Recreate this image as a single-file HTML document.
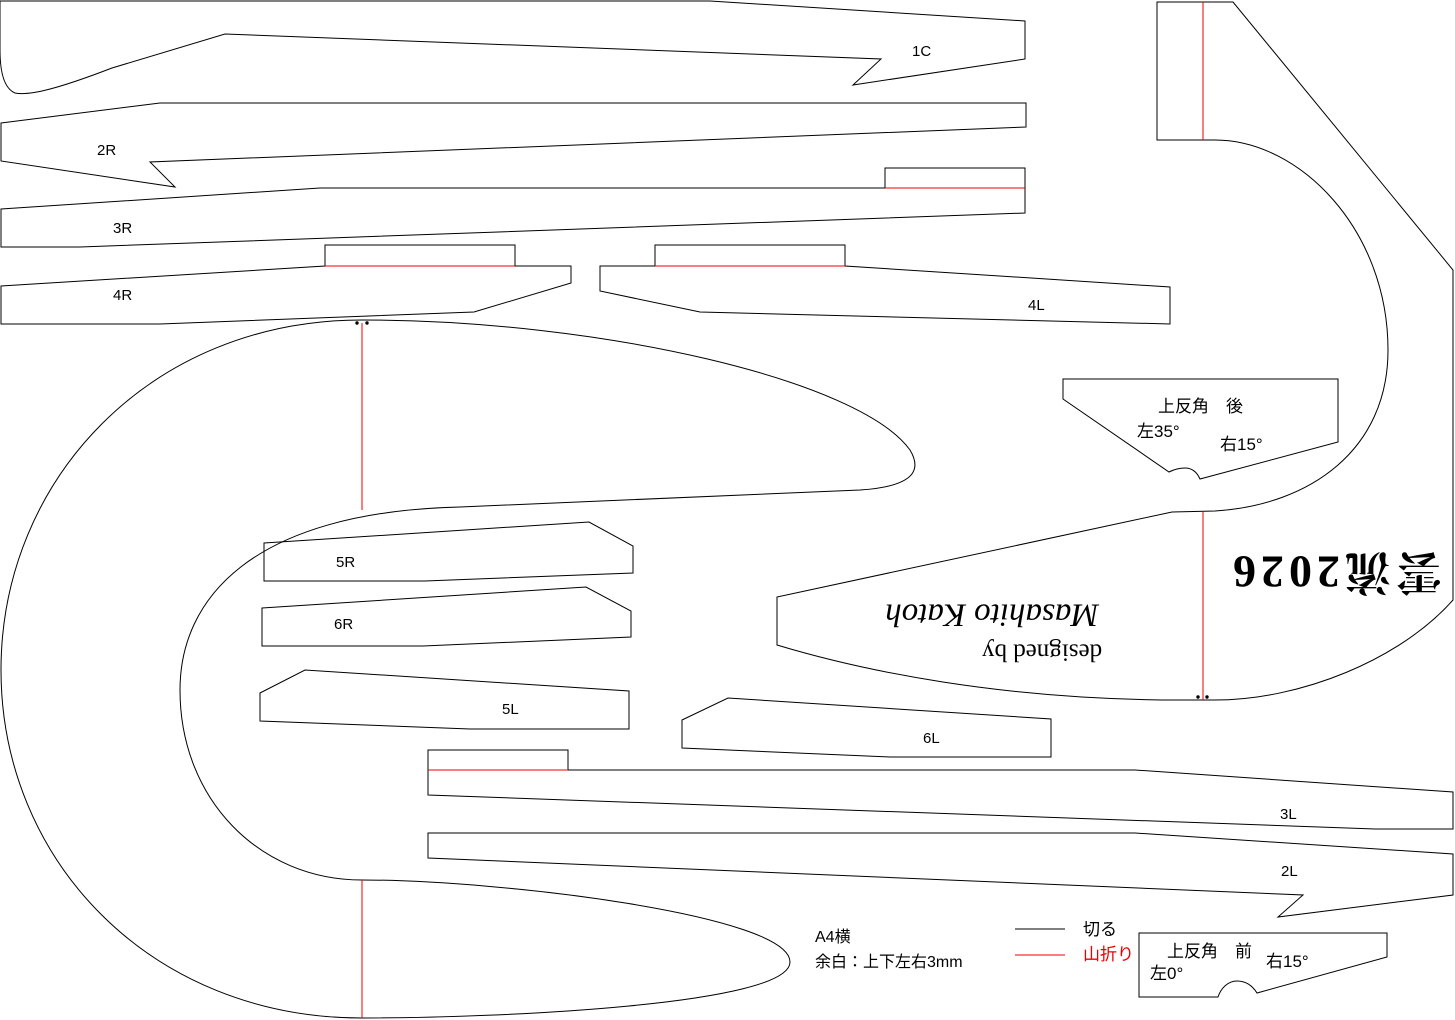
<!DOCTYPE html>
<html><head><meta charset="utf-8"><style>
html,body{margin:0;padding:0;background:#fff;}
svg{display:block}
text{font-family:"Liberation Sans","Noto Sans CJK JP",sans-serif;}
</style></head><body>
<svg width="1455" height="1020" viewBox="0 0 1455 1020" xmlns="http://www.w3.org/2000/svg">
<g fill="none" stroke="#000" stroke-width="1">
<path d="M0,1 L710,1 L1025,21 L1025,59 L853,85 L881,59 L225,34 L112,68 C60,88 30,96 15,93 C3,88 0,70 0,50 L0,1 Z"/>
<path d="M1,123 L160,103 L1026,103 L1026,127 L150,162 L175,187 L1,161 Z"/>
<path d="M1,209 L320,188 L885,188 L885,168 L1025,168 L1025,213 L80,247 L1,247 Z"/>
<path d="M885,188 L1025,188" stroke="#e00"/>
<path d="M1,286 L325,266 L325,245 L515,245 L515,266 L571,266 L571,283 L474,312 L160,324 L1,324 Z"/>
<path d="M325,266 L515,266" stroke="#e00"/>
<path d="M600,266 L655,266 L655,245 L845,245 L845,266 L1170,287 L1170,324 L700,312 L600,291 Z"/>
<path d="M655,266 L845,266" stroke="#e00"/>
<path d="M362,320 C600,320 860,380 910,450 C925,475 905,487 860,490 L460,507 C250,512 180,600 180,690 C180,800 260,880 362,880 C500,880 790,915 790,962 C790,1005 500,1018 362,1018 C150,1018 1,860 1,670 C1,480 150,320 362,320 Z"/>
<path d="M362,323 L362,510 M362,880 L362,1018" stroke="#e00"/>
<path d="M1157,2 L1233,2 L1453,270 L1453,600 C1400,660 1300,700 1215,700 L1180,700 C1000,700 860,670 777,645 L777,597 L1172,512 L1215,511 C1310,505 1388,450 1388,350 C1388,230 1300,140 1215,140 L1157,140 Z"/>
<path d="M1203,2 L1203,140 M1203,512 L1203,700" stroke="#e00"/>
<path d="M264,543 L589,522 L633,546 L633,573 L425,581 L264,581 Z"/>
<path d="M262,608 L586,587 L631,611 L631,637 L423,646 L262,646 Z"/>
<path d="M260,693 L305,670 L629,691 L629,729 L470,729 L260,721 Z"/>
<path d="M682,720 L728,698 L1051,719 L1051,757 L890,757 L682,748 Z"/>
<path d="M428,750 L568,750 L568,770 L1135,770 L1453,792 L1453,829 L1375,829 L428,795 Z"/>
<path d="M428,770 L568,770" stroke="#e00"/>
<path d="M428,833 L1135,833 L1453,854 L1453,895 L1278,917 L1303,895 L428,858 Z"/>
<path d="M1063,379 L1338,379 L1338,442 L1200,479 C1196,470 1190,468 1185,468 C1178,468 1173,470 1169,472 L1063,399 Z"/>
<path d="M1139,933 L1387,933 L1387,957 L1257,993 C1252,985 1245,981 1237,981 C1228,981 1221,988 1218,997 L1139,997 Z"/>
<path d="M1015,929 L1065,929"/>
<path d="M1015,955 L1065,955" stroke="#e00"/>
</g>
<g fill="#000">
<circle cx="357" cy="323" r="1.7"/><circle cx="367" cy="323" r="1.7"/>
<circle cx="1198" cy="697" r="1.7"/><circle cx="1207" cy="697" r="1.7"/>
</g>
<g font-size="15" fill="#000">
<text x="912" y="56">1C</text>
<text x="97" y="155">2R</text>
<text x="113" y="233">3R</text>
<text x="113" y="300">4R</text>
<text x="1028" y="310">4L</text>
<text x="336" y="567">5R</text>
<text x="334" y="629">6R</text>
<text x="502" y="714">5L</text>
<text x="923" y="743">6L</text>
<text x="1280" y="819">3L</text>
<text x="1281" y="876">2L</text>
<text x="815" y="942" font-size="16">A4横</text>
<text x="815" y="967" font-size="16">余白：上下左右3mm</text>
<text x="1083" y="935" font-size="17">切る</text>
<text x="1083" y="960" font-size="17" fill="#e00">山折り</text>
<text x="1158" y="412" font-size="17">上反角　後</text>
<text x="1137" y="437" font-size="17">左35°</text>
<text x="1220" y="450" font-size="17">右15°</text>
<text x="1167" y="957" font-size="17">上反角　前</text>
<text x="1150" y="979" font-size="17">左0°</text>
<text x="1266" y="967" font-size="17">右15°</text>
</g>
<g fill="#000">
<text x="992" y="612" font-size="33" font-style="italic" text-anchor="middle" dominant-baseline="middle" transform="rotate(180 992 612)" style="font-family:'Liberation Serif',serif">Masahito Katoh</text>
<text x="1042" y="650" font-size="25" text-anchor="middle" dominant-baseline="middle" transform="rotate(180 1042 650)" style="font-family:'Liberation Serif',serif">designed by</text>
<text x="1335" y="567" font-size="46" font-weight="bold" letter-spacing="5" text-anchor="middle" dominant-baseline="middle" transform="rotate(180 1335 567)" style="font-family:'Liberation Serif','Noto Serif CJK SC',serif">雲流2026</text>
</g>
</svg>
</body></html>
